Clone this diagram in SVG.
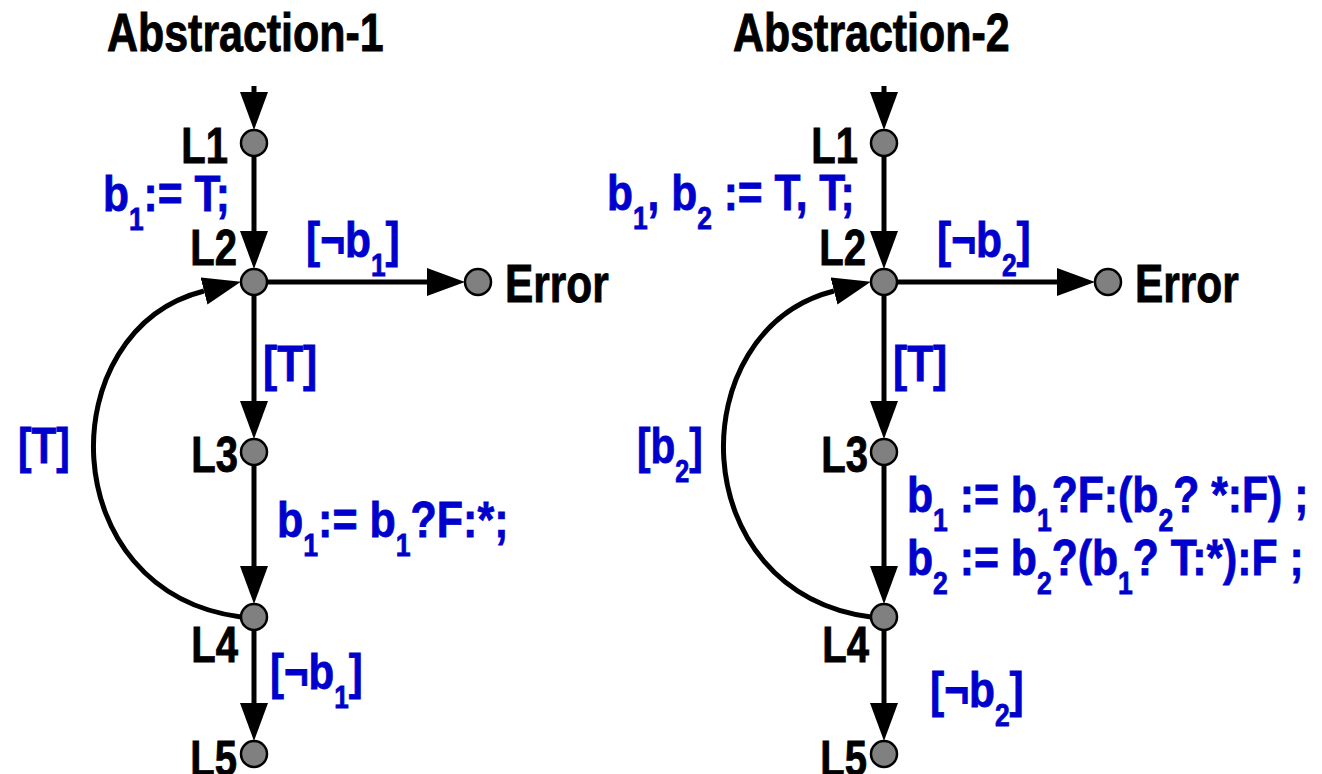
<svg xmlns="http://www.w3.org/2000/svg" width="1322" height="774" viewBox="0 0 1322 774">
<defs>
<style>
text{font-family:"Liberation Sans",Arial,sans-serif;font-weight:bold;}
.title{font-size:53px;fill:#000;stroke:#000;stroke-width:0.9;}
.lbl{font-size:50px;fill:#000;stroke:#000;stroke-width:0.9;text-anchor:end;}
.blue{font-size:50px;fill:#0000cc;stroke:#0000cc;stroke-width:0.8;}
.sub{font-size:31px;}
.node{fill:#808080;stroke:#000;stroke-width:2.5;}
.edge{fill:none;stroke:#000;stroke-width:5;marker-end:url(#ah);}
</style>
<marker id="ah" markerUnits="userSpaceOnUse" viewBox="0 0 38 28" markerWidth="38" markerHeight="28" refX="0" refY="14" orient="auto">
<path d="M0,0 L38,14 L0,28 z" fill="#000"/>
</marker>
</defs>
<rect width="1322" height="774" fill="#fff"/>

<text class="title" transform="translate(107,51) scale(0.81,1)">Abstraction-1</text>
<text class="title" transform="translate(733,51) scale(0.81,1)">Abstraction-2</text>

<g id="connectors">
<line class="edge" x1="254" y1="86" x2="254" y2="92"/>
<line class="edge" x1="254" y1="156" x2="254" y2="231"/>
<line class="edge" x1="267" y1="282" x2="427" y2="282"/>
<line class="edge" x1="254" y1="295" x2="254" y2="401"/>
<line class="edge" x1="254" y1="465" x2="254" y2="566"/>
<line class="edge" x1="254" y1="630" x2="254" y2="703"/>
<path class="edge" d="M241,617 C52,592 50,330 204,291"/>
<line class="edge" x1="884" y1="86" x2="884" y2="92"/>
<line class="edge" x1="884" y1="156" x2="884" y2="231"/>
<line class="edge" x1="897" y1="282" x2="1057" y2="282"/>
<line class="edge" x1="884" y1="295" x2="884" y2="401"/>
<line class="edge" x1="884" y1="465" x2="884" y2="566"/>
<line class="edge" x1="884" y1="630" x2="884" y2="703"/>
<path class="edge" d="M871,617 C682,592 680,330 834,291"/>
</g>

<g id="edge-labels">
<text class="blue" transform="translate(103,211) scale(0.85,1)">b<tspan class="sub" dy="19">1</tspan><tspan dy="-19">:= T;</tspan></text>
<text class="blue" transform="translate(306,257) scale(0.85,1)">[¬b<tspan class="sub" dy="19">1</tspan><tspan dy="-19">]</tspan></text>
<text class="blue" transform="translate(263,381) scale(0.85,1)">[T]</text>
<text class="blue" transform="translate(18,463) scale(0.81,1)">[T]</text>
<text class="blue" transform="translate(277,537) scale(0.86,1)">b<tspan class="sub" dy="19">1</tspan><tspan dy="-19">:= b</tspan><tspan class="sub" dy="19">1</tspan><tspan dy="-19">?F:*;</tspan></text>
<text class="blue" transform="translate(270,689) scale(0.84,1)">[¬b<tspan class="sub" dy="19">1</tspan><tspan dy="-19">]</tspan></text>

<text class="blue" transform="translate(607,210) scale(0.85,1)">b<tspan class="sub" dy="19">1</tspan><tspan dy="-19">, b</tspan><tspan class="sub" dy="19">2</tspan><tspan dy="-19"> := T, T;</tspan></text>
<text class="blue" transform="translate(937,257) scale(0.85,1)">[¬b<tspan class="sub" dy="19">2</tspan><tspan dy="-19">]</tspan></text>
<text class="blue" transform="translate(893,381) scale(0.85,1)">[T]</text>
<text class="blue" transform="translate(637,463) scale(0.81,1)">[b<tspan class="sub" dy="19">2</tspan><tspan dy="-19">]</tspan></text>
<text class="blue" transform="translate(907,512) scale(0.855,1)">b<tspan class="sub" dy="19">1</tspan><tspan dy="-19"> := b</tspan><tspan class="sub" dy="19">1</tspan><tspan dy="-19">?F:(b</tspan><tspan class="sub" dy="19">2</tspan><tspan dy="-19">? *:F) ;</tspan></text>
<text class="blue" transform="translate(907,575) scale(0.855,1)">b<tspan class="sub" dy="19">2</tspan><tspan dy="-19"> := b</tspan><tspan class="sub" dy="19">2</tspan><tspan dy="-19">?(b</tspan><tspan class="sub" dy="19">1</tspan><tspan dy="-19">? T:*):F ;</tspan></text>
<text class="blue" transform="translate(930,707) scale(0.85,1)">[¬b<tspan class="sub" dy="19">2</tspan><tspan dy="-19">]</tspan></text>
</g>

<g id="a1-L1"><circle class="node" cx="254" cy="143" r="13"/><text class="lbl" transform="translate(228,163) scale(0.8,1)">L1</text></g>
<g id="a1-L2"><circle class="node" cx="254" cy="282" r="13"/><text class="lbl" transform="translate(237,265) scale(0.8,1)">L2</text></g>
<g id="a1-Error"><circle class="node" cx="478" cy="282" r="13"/><text class="title" transform="translate(505,302) scale(0.8,1)">Error</text></g>
<g id="a1-L3"><circle class="node" cx="254" cy="452" r="13"/><text class="lbl" transform="translate(238,472) scale(0.8,1)">L3</text></g>
<g id="a1-L4"><circle class="node" cx="254" cy="617" r="13"/><text class="lbl" transform="translate(238,662) scale(0.8,1)">L4</text></g>
<g id="a1-L5"><circle class="node" cx="254" cy="754" r="13"/><text class="lbl" transform="translate(237,776) scale(0.8,1)">L5</text></g>

<g id="a2-L1"><circle class="node" cx="884" cy="143" r="13"/><text class="lbl" transform="translate(858,163) scale(0.8,1)">L1</text></g>
<g id="a2-L2"><circle class="node" cx="884" cy="282" r="13"/><text class="lbl" transform="translate(866,265) scale(0.8,1)">L2</text></g>
<g id="a2-Error"><circle class="node" cx="1108" cy="282" r="13"/><text class="title" transform="translate(1135,302) scale(0.8,1)">Error</text></g>
<g id="a2-L3"><circle class="node" cx="884" cy="452" r="13"/><text class="lbl" transform="translate(868,472) scale(0.8,1)">L3</text></g>
<g id="a2-L4"><circle class="node" cx="884" cy="617" r="13"/><text class="lbl" transform="translate(869,662) scale(0.8,1)">L4</text></g>
<g id="a2-L5"><circle class="node" cx="884" cy="754" r="13"/><text class="lbl" transform="translate(867,776) scale(0.8,1)">L5</text></g>
</svg>
